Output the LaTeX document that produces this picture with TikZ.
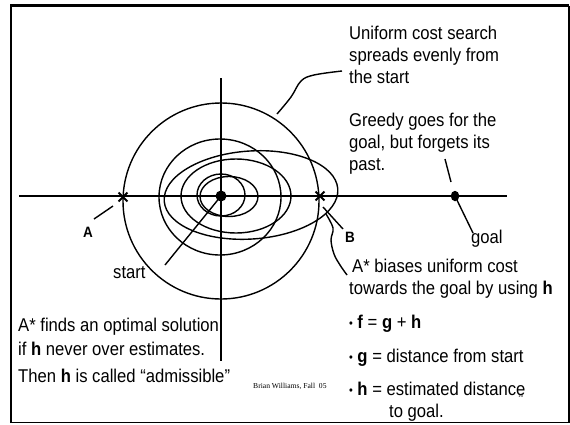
\documentclass[tikz,border=0pt]{standalone}
\usepackage{fontspec}
\setmainfont{Liberation Sans}[FakeStretch=0.9]
\newfontfamily\footfont{Liberation Serif}
\usetikzlibrary{shapes.geometric,shapes.misc}
\newcommand{\bulletmark}{\raisebox{1pt}{\fontsize{12}{12}\selectfont •}\hspace{4.5pt}}
\begin{document}
\begin{tikzpicture}[x=1pt,y=-1pt,
  ln/.style={line width=1.4pt},
  axisline/.style={line width=1.7pt},
  txt/.style={anchor=base west, inner sep=0pt, font=\fontsize{18.5}{22}\selectfont},
  lbl/.style={anchor=center, inner sep=0pt, font=\fontsize{15}{16}\selectfont\bfseries},
  xmark/.style={draw, cross out, minimum size=7pt, inner sep=0pt, line width=1.9pt}]
\useasboundingbox (0,0) rectangle (570,424);
% frame
\draw[line width=2.6pt] (11,423) -- (11,5.5) -- (569,5.5);
\draw[line width=1.5pt] (569,5.5) -- (569,422.5) -- (11,422.5);
% axes
\draw[axisline] (19,196) -- (507,196);
\draw[axisline] (221,78) -- (221,361);
% frontiers
\draw[ln] (221,201) circle [radius=98];
\draw[ln] (220,197) ellipse [x radius=61, y radius=58];
\draw[ln, rotate around={4:(251,195)}] (251,195) ellipse [x radius=87, y radius=44];
\draw[ln] (236,196) ellipse [x radius=55, y radius=37];
\draw[ln] (229,196.5) ellipse [x radius=29, y radius=20];
\draw[ln] (221,195) ellipse [x radius=24, y radius=21];
% points
\node[circle, fill, inner sep=0pt, minimum size=11pt] (start) at (221,196) {};
\node[ellipse, fill, inner sep=0pt, minimum width=8.5pt, minimum height=10.5pt] (goal) at (455,196) {};
\node[xmark] (xa) at (123,197) {};
\node[xmark] (xb) at (320,196) {};
% labels
\node[lbl] (la) at (88,232) {A};
\node[lbl] (lb) at (350,237) {B};
\node[txt] (lstart) at (113,278) {start};
\node[txt] (lgoal) at (471,243) {goal};
% texts
\node[txt] (u1) at (349,39) {Uniform cost search};
\node[txt] (u2) at (349,61) {spreads evenly from};
\node[txt] (u3) at (349,83) {the start};
\node[txt] (g1) at (349,126) {Greedy goes for the};
\node[txt] (g2) at (349,148) {goal, but forgets its};
\node[txt] (g3) at (349,170) {past.};
\node[txt] (a1) at (352,272) {A* biases uniform cost};
\node[txt] (a2) at (349,294) {towards the goal by using \textbf{h}};
\node[anchor=base west, inner sep=0pt, font=\footfont\fontsize{5}{6}\selectfont] (pg) at (518,397) {16};
\node[txt] (b1) at (349,328) {\bulletmark \textbf{f} = \textbf{g} + \textbf{h}};
\node[txt] (b2) at (349,362) {\bulletmark \textbf{g} = distance from start};
\node[txt] (b3) at (349,395) {\bulletmark \textbf{h} = estimated distance};
\node[txt] (b4) at (389,417) {to goal.};
\node[txt] (l1) at (18,331) {A* finds an optimal solution};
\node[txt] (l2) at (18,355) {if \textbf{h} never over estimates.};
\node[txt] (l3) at (18,382) {Then \textbf{h} is called “admissible”};
\node[anchor=base west, inner sep=0pt, font=\footfont\fontsize{7.6}{9}\selectfont] (foot) at (253,388) {Brian Williams, Fall\ \ 05};
% leader lines
\coordinate (ucsend) at (277,114);
\coordinate (ucstip) at (342,71);
\draw[ln] plot[smooth, tension=0.6] coordinates {(ucsend) (291,97) (301,81) (314,75) (ucstip)};
\coordinate (grA) at (445,159);
\coordinate (grB) at (451,182);
\draw[ln] (grA) -- (grB);
\coordinate (goalend) at (473,233);
\draw[ln] (goal.center) -- (goalend);
\coordinate (startend) at (165,265);
\draw[ln] (start.center) -- (startend);
\coordinate (aA) at (113,206);
\coordinate (aB) at (94,219);
\draw[ln] (aA) -- (aB);
\coordinate (bA) at (323,207);
\coordinate (bB) at (343,229);
\draw[ln] (bA) -- (bB);
\coordinate (asA) at (326,214);
\coordinate (asB) at (347,275);
\draw[ln] plot[smooth, tension=0.6] coordinates {(asA) (333,228) (331,240) (334,254) (340,265) (asB)};
\end{tikzpicture}
\end{document}
